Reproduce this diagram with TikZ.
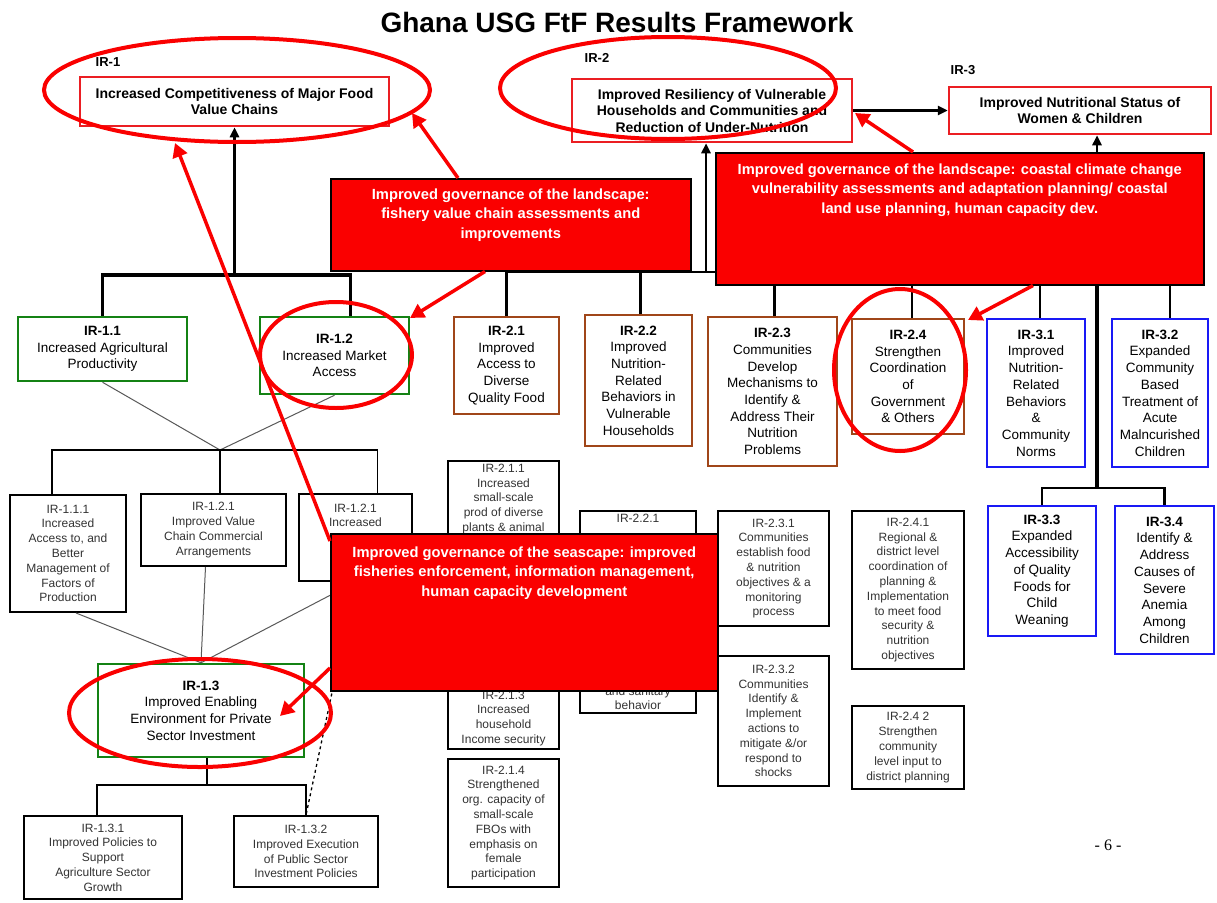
\documentclass[tikz,border=0pt]{standalone}
\usepackage{fontspec}
\setmainfont{Liberation Sans}
\newfontfamily\pagefont{Liberation Serif}
\usetikzlibrary{positioning,arrows.meta,shapes.geometric}

\definecolor{irred}{RGB}{235,30,35}
\definecolor{irgreen}{RGB}{20,130,20}
\definecolor{irbrown}{RGB}{160,70,25}
\definecolor{irblue}{RGB}{25,25,245}
\definecolor{hilite}{RGB}{250,0,0}

\tikzset{
  irtag/.style={font=\bfseries\fontsize{13}{15}\selectfont, inner sep=0pt},
  goalbox/.style={draw=irred, line width=2.5pt, fill=white, align=center, inner sep=2pt,
    font=\bfseries\fontsize{14}{16.5}\selectfont},
  resbox/.style={line width=2.5pt, fill=white, align=center, inner sep=3pt,
    font=\fontsize{13.5}{16.7}\selectfont},
  agbox/.style={resbox, draw=irgreen},
  hhbox/.style={resbox, draw=irbrown},
  nutbox/.style={resbox, draw=irblue},
  subbox/.style={draw=black, line width=2pt, fill=white, align=center, inner sep=3pt,
    text=black!80, font=\fontsize{12}{14.8}\selectfont},
  ring/.style={ellipse, draw=hilite, line width=4pt, inner sep=0pt},
  flagbox/.style={draw=black, line width=1.5pt, fill=hilite, anchor=north west, inner sep=0pt},
  flagtext/.style={text=white, align=center, font=\bfseries\fontsize{14.7}{19.5}\selectfont},
  pointer/.style={draw=hilite, line width=3.5pt, -{Triangle[length=14pt,width=15pt]}},
  bus/.style={line width=3.5pt},
  midbus/.style={line width=2.5pt},
  twig/.style={line width=1pt, draw=black!65},
  stem/.style={line width=1.3pt},
  uptip/.style={-{Triangle[length=10pt,width=9pt]}},
}

\begin{document}
\begin{tikzpicture}[x=1pt,y=-1pt]
  \fill[white] (0,0) rectangle (1217,902);
  \useasboundingbox (0,0) rectangle (1217,902);

  \node[font=\bfseries\fontsize{28}{32}\selectfont] (title) at (617,22) {Ghana USG FtF Results Framework};

  % top level results
  \node[irtag] (tag1) at (108,62) {IR-1};
  \node[irtag] (tag2) at (597,58) {IR-2};
  \node[irtag] (tag3) at (963,70) {IR-3};
  \node[goalbox, minimum width=309pt, minimum height=49pt] (ir1) at (234.5,101.5)
    {Increased Competitiveness of Major Food\\Value Chains};
  \node[goalbox, minimum width=280pt, minimum height=63pt] (ir2) at (712,110.5)
    {Improved Resiliency of Vulnerable\\Households and Communities and\\Reduction of Under-Nutrition};
  \node[goalbox, minimum width=262pt, minimum height=47pt] (ir3) at (1080,110.5)
    {Improved Nutritional Status of\\Women \& Children};
  \draw[bus, uptip] (ir2.east) -- (ir3.west);

  % intermediate results
  \node[agbox, minimum width=169pt, minimum height=64pt] (ir11) at (102.5,349)
    {\textbf{IR-1.1}\\Increased Agricultural\\Productivity};
  \node[agbox, minimum width=149pt, minimum height=77pt] (ir12) at (334.5,355.5)
    {\textbf{IR-1.2}\\Increased Market\\Access};
  \node[hhbox, minimum width=105pt, minimum height=97pt] (ir21) at (506.5,365.5)
    {\textbf{IR-2.1}\\Improved\\Access to\\Diverse\\Quality Food};
  \node[hhbox, minimum width=107pt, minimum height=131pt] (ir22) at (638.5,380.5)
    {\textbf{IR-2.2}\\Improved\\Nutrition-\\Related\\Behaviors in\\Vulnerable\\Households};
  \node[hhbox, minimum width=129pt, minimum height=149pt] (ir23) at (772.5,391.5)
    {\textbf{IR-2.3}\\Communities\\Develop\\Mechanisms to\\Identify \&\\Address Their\\Nutrition\\Problems};
  \node[hhbox, minimum width=112pt, minimum height=115pt] (ir24) at (908,376.5)
    {\textbf{IR-2.4}\\Strengthen\\Coordination\\of\\Government\\\& Others};
  \node[nutbox, minimum width=98pt, minimum height=148pt] (ir31) at (1036,393)
    {\textbf{IR-3.1}\\Improved\\Nutrition-\\Related\\Behaviors\\\&\\Community\\Norms};
  \node[nutbox, minimum width=96pt, minimum height=148pt] (ir32) at (1160,393)
    {\textbf{IR-3.2}\\Expanded\\Community\\Based\\Treatment of\\Acute\\Malncurished\\Children};
  \node[nutbox, minimum width=108pt, minimum height=130pt] (ir33) at (1042,571)
    {\textbf{IR-3.3}\\Expanded\\Accessibility\\of Quality\\Foods for\\Child\\Weaning};
  \node[nutbox, minimum width=99pt, minimum height=148pt] (ir34) at (1164.5,580)
    {\textbf{IR-3.4}\\Identify \&\\Address\\Causes of\\Severe\\Anemia\\Among\\Children};

  % sub results, IR-1
  \node[subbox, minimum width=116pt, minimum height=117pt] (ir111) at (68,553.5)
    {IR-1.1.1\\Increased\\Access to, and\\Better\\Management of\\Factors of\\Production};
  \node[subbox, minimum width=145pt, minimum height=72pt] (ir121) at (213.5,530)
    {IR-1.2.1\\Improved Value\\Chain Commercial\\Arrangements};
  \node[subbox, minimum width=113pt, minimum height=87pt] (ir121b) at (355.5,537.5)
    {IR-1.2.1\\Increased\\~\\~\\~};
  \node[agbox, minimum width=206pt, minimum height=93pt] (ir13) at (201,710.5)
    {\textbf{IR-1.3}\\Improved Enabling\\Environment for Private\\Sector Investment};
  \node[subbox, minimum width=158pt, minimum height=83pt] (ir131) at (103,857.5)
    {IR-1.3.1\\Improved Policies to\\Support\\Agriculture Sector\\Growth};
  \node[subbox, minimum width=144pt, minimum height=71pt] (ir132) at (306,851.5)
    {IR-1.3.2\\Improved Execution\\of Public Sector\\Investment Policies};

  % sub results, IR-2
  \node[subbox, minimum width=111pt, anchor=north] (ir211) at (503.5,460)
    {IR-2.1.1\\Increased\\small-scale\\prod of diverse\\plants \& animal\\~};
  \node[subbox, minimum width=116pt, anchor=north] (ir221) at (638,510)
    {IR-2.2.1\\[158pt]and sanitary\\behavior};
  \node[subbox, minimum width=111pt, anchor=south] (ir213) at (503.5,750)
    {~\\[20pt]IR-2.1.3\\Increased\\household\\Income security};
  \node[subbox, minimum width=111pt, minimum height=128pt] (ir214) at (503.5,823)
    {IR-2.1.4\\Strengthened\\org. capacity of\\small-scale\\FBOs with\\emphasis on\\female\\participation};
  \node[subbox, minimum width=111pt, minimum height=115pt] (ir231) at (773.5,568.5)
    {IR-2.3.1\\Communities\\establish food\\\& nutrition\\objectives \& a\\monitoring\\process};
  \node[subbox, minimum width=111pt, minimum height=130pt] (ir232) at (773.5,721)
    {IR-2.3.2\\Communities\\Identify \&\\Implement\\actions to\\mitigate \&/or\\respond to\\shocks};
  \node[subbox, minimum width=112pt, minimum height=158pt] (ir241) at (908,590)
    {IR-2.4.1\\Regional \&\\district level\\coordination of\\planning \&\\Implementation\\to meet food\\security \&\\nutrition\\objectives};
  \node[subbox, minimum width=112pt, minimum height=83pt] (ir242) at (908,747.5)
    {IR-2.4 2\\Strengthen\\community\\level input to\\district planning};

  \node[font=\pagefont\fontsize{16}{18}\selectfont] (pageno) at (1108,845) {- 6 -};

  % tree lines
  \coordinate (hub1) at (234.5,275);
  \coordinate (hub2) at (706,272);
  \coordinate (hub3) at (1097,285);
  \coordinate (hub3b) at (1097,488);
  \coordinate (hub4) at (220,450);
  \coordinate (hub6) at (207,785);
  \draw[bus] (ir11.north) |- (hub1) -| ([xshift=16pt]ir12.north);
  \draw[bus, uptip] (hub1) -- (ir1.south);
  \draw[midbus] (ir21.north) |- ([xshift=4pt]ir24.north |- hub2) -- ([xshift=4pt]ir24.north);
  \foreach \n in {ir22,ir23}
    \draw[midbus] ([xshift=2pt]\n.north) -- ([xshift=2pt]\n.north |- hub2);
  \draw[midbus, uptip] (hub2) -- (hub2 |- ir2.south);
  \draw[midbus] ([xshift=4pt]ir31.north) |- ([xshift=10pt]ir32.north |- hub3) -- ([xshift=10pt]ir32.north);
  \draw[midbus, uptip] (hub3) -- (hub3 |- ir3.south);
  \draw[bus] (hub3) -- (hub3b);
  \draw[midbus] (ir33.north) |- (ir34.north |- hub3b) -- (ir34.north);

  \draw[twig] (ir11.south) -- (hub4) -- (ir12.south);
  \draw[stem] ([xshift=-16pt]ir111.north) |- ([xshift=22pt]ir121b.north |- hub4) -- ([xshift=22pt]ir121b.north);
  \draw[stem] (hub4) -- (hub4 |- ir121.north);
  \draw[twig] ([xshift=8pt]ir111.south) -- (ir13.north) -- (ir121b.south);
  \draw[twig] ([xshift=-8pt]ir121.south) -- (ir13.north);
  \draw[stem] (hub6 |- ir13.south) -- (hub6);
  \draw[stem] ([xshift=-6pt]ir131.north) |- (ir132.north |- hub6) -- (ir132.north);
  \draw[stem, dashed] (ir121b.south) -- (ir132.north);

  % red highlights
  \node[ring, minimum width=386pt, minimum height=104pt] (ring1) at (237,90) {};
  \node[ring, minimum width=336pt, minimum height=102pt] (ring2) at (668,88) {};
  \node[ring, minimum width=152pt, minimum height=106pt] (ring12) at (336,355) {};
  \node[ring, minimum width=132pt, minimum height=162pt] (ring24) at (900,370) {};
  \node[ring, minimum width=262pt, minimum height=108pt] (ring13) at (200,713) {};

  \node[flagbox, minimum width=360pt, minimum height=92pt] (gov1) at (330,178) {};
  \node[flagtext, below=7pt of gov1.north] (gov1txt)
    {Improved governance of the landscape:\\fishery value chain assessments and\\improvements};
  \node[flagbox, minimum width=488pt, minimum height=132pt] (gov2) at (715,152) {};
  \node[flagtext, below=8pt of gov2.north] (gov2txt)
    {Improved governance of the landscape: coastal climate change\\vulnerability assessments and adaptation planning/ coastal\\land use planning, human capacity dev.};
  \node[flagbox, minimum width=387pt, minimum height=157pt] (gov3) at (330,533) {};
  \node[flagtext, below=10pt of gov3.north] (gov3txt)
    {Improved governance of the seascape: improved\\fisheries enforcement, information management,\\human capacity development};

  \coordinate (t1) at (412,113);
  \coordinate (t2) at (175,143);
  \coordinate (t3) at (410,318);
  \coordinate (t4) at (855,113);
  \coordinate (t5) at (968,320);
  \coordinate (t6) at (280,716);
  \draw[pointer] ([xshift=128pt]gov1.north west) -- (t1);
  \draw[pointer] ([xshift=155pt]gov1.south west) -- (t3);
  \draw[pointer] ([xshift=198pt]gov2.north west) -- (t4);
  \draw[pointer] ([xshift=318pt]gov2.south west) -- (t5);
  \draw[pointer] ([yshift=-8pt]gov3.north west) -- (t2);
  \draw[pointer] ([yshift=-135pt]gov3.north west) -- (t6);
\end{tikzpicture}
\end{document}
